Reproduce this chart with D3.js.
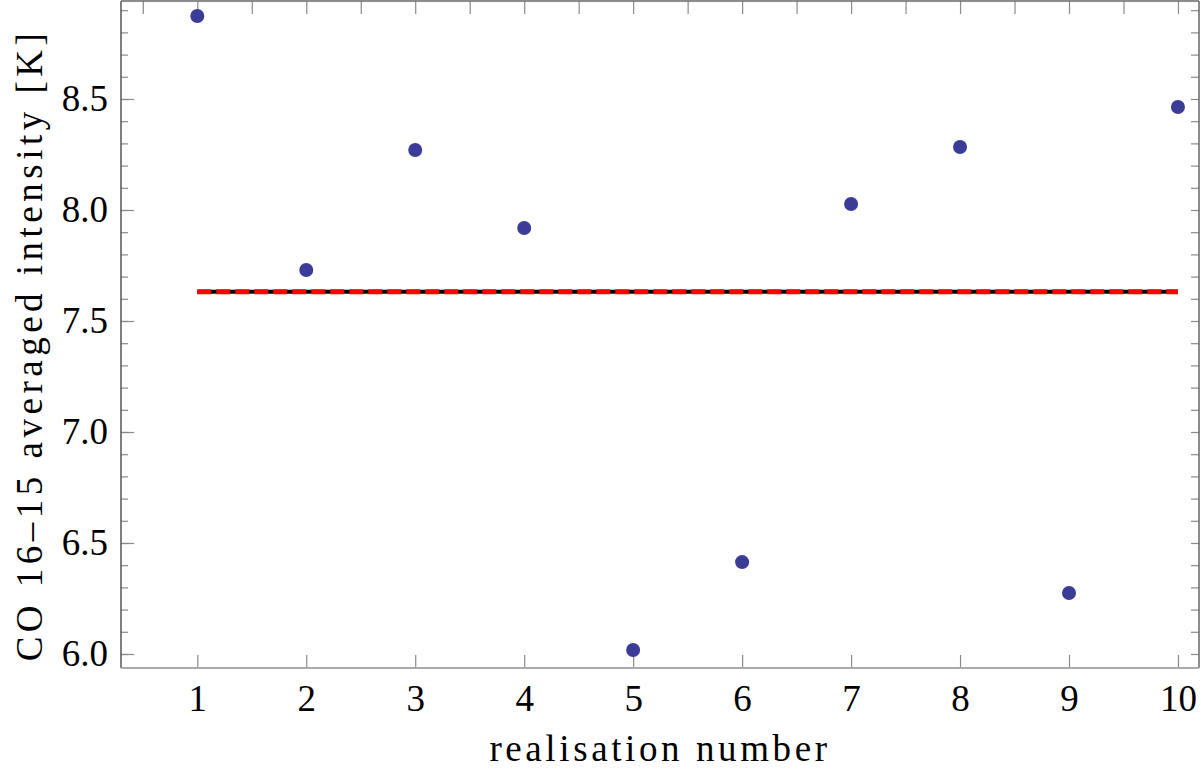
<!DOCTYPE html>
<html>
<head>
  <title>CO 16-15 realisations</title>
  <script src="https://d3js.org/d3.v7.min.js"></script>
  <style>
    body { margin: 0; background: #fff; }
    .tick text { font-family: "Times New Roman", Times, "Liberation Serif", "Nimbus Roman", serif; font-size: 37px; fill: #000; }
    .axis path { display: none; }
    .axis line { stroke: #8a8a8a; stroke-width: 1.2px; }
    .title { font-family: "Times New Roman", Times, "Liberation Serif", "Nimbus Roman", serif; font-size: 37px; fill: #000; }
  </style>
</head>
<body>
  <svg id="chart"></svg>
  <script>
    // data
    const realisations = [1, 2, 3, 4, 5, 6, 7, 8, 9, 10];
    const intensity = [8.874, 7.730, 8.270, 7.919, 6.018, 6.414, 8.027, 8.284, 6.275, 8.464];
    const meanIntensity = 7.632;
    const xTicks = [1, 2, 3, 4, 5, 6, 7, 8, 9, 10];
    const yTicks = [6.0, 6.5, 7.0, 7.5, 8.0, 8.5];

    const width = 1200, height = 768;
    const plotL = 121, plotR = 1199, plotT = 1, plotB = 668;

    const svg = d3.select("#chart").attr("width", width).attr("height", height);

    const x = d3.scaleLinear().domain([0.2998, 10.193]).range([plotL, plotR]);
    const y = d3.scaleLinear().domain([5.9369, 8.9414]).range([plotB, plotT]);

    const minorY = d3.range(60, 90).map(v => v / 10);
    const halfX = d3.range(1, 21).map(v => v / 2);

    // ticks
    svg.append("g").attr("class", "axis")
       .attr("transform", `translate(${plotL},0)`)
       .call(d3.axisLeft(y).tickValues(minorY).tickSize(-7).tickFormat(""));
    svg.append("g").attr("class", "axis")
       .attr("transform", `translate(${plotL},0)`)
       .call(d3.axisLeft(y).tickValues(yTicks).tickSize(-13).tickPadding(13).tickFormat(d3.format(".1f")));
    svg.append("g").attr("class", "axis")
       .attr("transform", `translate(${plotR},0)`)
       .call(d3.axisRight(y).tickValues(minorY).tickSize(-8).tickFormat(""));
    svg.append("g").attr("class", "axis")
       .attr("transform", `translate(0,${plotT})`)
       .call(d3.axisTop(x).tickValues(halfX).tickSize(-13).tickFormat(""));
    svg.append("g").attr("class", "axis")
       .attr("transform", `translate(0,${plotB})`)
       .call(d3.axisBottom(x).tickValues(xTicks).tickSize(-13).tickPadding(17).tickFormat(d3.format("d")));

    // frame
    svg.append("line").attr("x1", plotL).attr("x2", plotR).attr("y1", plotT).attr("y2", plotT)
       .attr("stroke", "#666").attr("stroke-width", 1.5);
    svg.append("line").attr("x1", plotR).attr("x2", plotR).attr("y1", plotT).attr("y2", plotB)
       .attr("stroke", "#666").attr("stroke-width", 1.5);
    svg.append("line").attr("x1", plotL).attr("x2", plotL).attr("y1", plotT).attr("y2", plotB)
       .attr("stroke", "#555").attr("stroke-width", 1.5);
    svg.append("line").attr("x1", plotL).attr("x2", plotR).attr("y1", plotB).attr("y2", plotB)
       .attr("stroke", "#aaa").attr("stroke-width", 2.2);

    // mean line: black dotted under red dashed
    const xs = d3.extent(realisations);
    svg.append("line")
       .attr("x1", x(xs[0])).attr("x2", x(xs[1]))
       .attr("y1", y(meanIntensity)).attr("y2", y(meanIntensity))
       .attr("stroke", "#000").attr("stroke-width", 4);
    svg.append("line")
       .attr("x1", x(xs[0])).attr("x2", x(xs[1]))
       .attr("y1", y(meanIntensity)).attr("y2", y(meanIntensity))
       .attr("stroke", "#f00").attr("stroke-width", 5)
       .attr("stroke-dasharray", "14,5");

    // points
    svg.selectAll("circle.pt")
       .data(realisations)
       .enter()
       .append("circle")
       .attr("class", "pt")
       .attr("cx", d => x(d))
       .attr("cy", (d, i) => y(intensity[i]))
       .attr("r", 7)
       .attr("fill", "#3b3b98");

    // axis titles
    svg.append("text").attr("class", "title")
       .attr("x", 660).attr("y", 761)
       .attr("text-anchor", "middle")
       .style("letter-spacing", "3.6px")
       .text("realisation number");
    svg.append("text").attr("class", "title")
       .attr("transform", "translate(42,345) rotate(-90)")
       .attr("text-anchor", "middle")
       .style("letter-spacing", "4.5px")
       .text("CO 16–15 averaged intensity [K]");
  </script>
</body>
</html>
